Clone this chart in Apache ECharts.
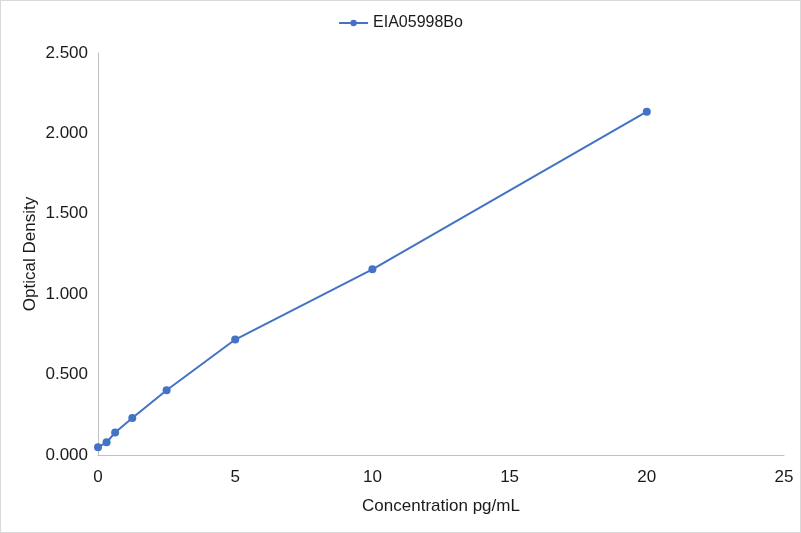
<!DOCTYPE html>
<html><head><meta charset="utf-8">
<script src="https://cdn.jsdelivr.net/npm/echarts@6/dist/echarts.min.js"></script>
<style>html,body{margin:0;padding:0;background:#fff}#c{width:801px;height:533px;box-sizing:border-box;border:1px solid #d9d9d9}</style>
</head><body><div id="c"></div>
<script>
const seriesName = 'EIA05998Bo';
const concentrations = [0, 0.3125, 0.625, 1.25, 2.5, 5, 10, 20];
const opticalDensity = [0.048, 0.079, 0.140, 0.230, 0.403, 0.718, 1.155, 2.135];
const xTitle = 'Concentration pg/mL';
const yTitle = 'Optical Density';

const chart = echarts.init(document.getElementById('c'));
const font = 'Liberation Sans, Arial, sans-serif';
const textColor = '#1a1a1a';
chart.setOption({
  animation: false,
  legend: {
    top: 9, left: 'center',
    itemWidth: 29, itemHeight: 8, itemGap: 10,
    textStyle: {fontFamily: font, fontSize: 16, color: textColor},
    data: [seriesName]
  },
  grid: {left: 97, right: 16, top: 52, bottom: 77},
  xAxis: {
    type: 'value', min: 0, max: 25, interval: 5,
    name: xTitle, nameLocation: 'middle', nameGap: 43,
    nameTextStyle: {fontFamily: font, fontSize: 17, color: textColor},
    axisLine: {show: true, lineStyle: {color: '#bfbfbf'}},
    axisTick: {show: false},
    splitLine: {show: false},
    axisLabel: {fontFamily: font, fontSize: 17, color: textColor, margin: 14}
  },
  yAxis: {
    type: 'value', min: 0, max: 2.5, interval: 0.5,
    name: yTitle, nameLocation: 'middle', nameGap: 59, nameMoveOverlap: false,
    nameTextStyle: {fontFamily: font, fontSize: 17, color: textColor},
    axisLine: {show: true, lineStyle: {color: '#bfbfbf'}},
    axisTick: {show: false},
    splitLine: {show: false},
    axisLabel: {fontFamily: font, fontSize: 17, color: textColor, margin: 10,
      formatter: v => v.toFixed(3)}
  },
  series: [{
    name: seriesName, type: 'line',
    data: concentrations.map((x, i) => [x, opticalDensity[i]]),
    symbol: 'circle', symbolSize: 8,
    lineStyle: {color: '#4472c4', width: 2},
    itemStyle: {color: '#4472c4'}
  }]
});
</script></body></html>
